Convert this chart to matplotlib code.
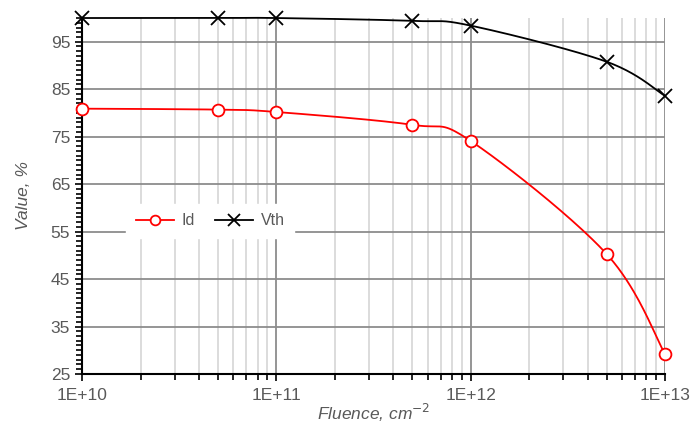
import numpy as np
import matplotlib
matplotlib.use("Agg")
import matplotlib.pyplot as plt
from matplotlib.ticker import FixedLocator, FuncFormatter, NullFormatter, LogLocator

plt.rcParams['font.family'] = ['Liberation Sans', 'DejaVu Sans']

fluence = [1e10, 5e10, 1e11, 5e11, 1e12, 5e12, 1e13]
id_vals = [80.9, 80.7, 80.2, 77.5, 74.1, 50.3, 29.2]
vth_vals = [100.0, 100.0, 100.0, 99.4, 98.4, 90.8, 83.6]
y_ticks = [25, 35, 45, 55, 65, 75, 85, 95]
x_ticks = [1e10, 1e11, 1e12, 1e13]
x_tick_labels = ["1E+10", "1E+11", "1E+12", "1E+13"]


def smooth(xs, ys, n=40):
    # Catmull-Rom style smoothing in log-x space (Excel "smoothed line")
    lx = np.log10(xs)
    ys = np.asarray(ys, float)
    P = np.column_stack([lx, ys])
    out = []
    for i in range(len(P) - 1):
        p0 = P[i - 1] if i > 0 else P[i]
        p1 = P[i]
        p2 = P[i + 1]
        p3 = P[i + 2] if i + 2 < len(P) else P[i + 1]
        c1 = p1 + (p2 - p0) / 6.0
        c2 = p2 - (p3 - p1) / 6.0
        t = np.linspace(0, 1, n)[:, None]
        seg = ((1 - t) ** 3) * p1 + 3 * ((1 - t) ** 2) * t * c1 + 3 * (1 - t) * t ** 2 * c2 + t ** 3 * p2
        out.append(seg if i == 0 else seg[1:])
    S = np.vstack(out)
    return 10 ** S[:, 0], S[:, 1]


fig = plt.figure(figsize=(6.92, 4.24), dpi=100)
ax = fig.add_axes([0.1185, 0.118, 0.8425, 0.8395])
ax.set_xscale('log')
ax.set_xlim(1e10, 1e13)
ax.set_ylim(25, 100)

gray = '#595959'
ax.set_axisbelow(True)
ax.yaxis.set_major_locator(FixedLocator(y_ticks))
ax.yaxis.set_minor_locator(FixedLocator(np.arange(25, 100.1, 1)))
ax.xaxis.set_major_locator(FixedLocator(x_ticks))
ax.xaxis.set_major_formatter(FuncFormatter(lambda v, p: x_tick_labels[x_ticks.index(v)] if v in x_ticks else ""))
ax.xaxis.set_minor_locator(LogLocator(base=10, subs=np.arange(2, 10)))
ax.xaxis.set_minor_formatter(NullFormatter())

ax.grid(which='major', axis='both', color='#8c8c8c', linewidth=1.3)
ax.grid(which='minor', axis='x', color='#d9d9d9', linewidth=1.3)

for s in ['top', 'right']:
    ax.spines[s].set_visible(False)
for s in ['left', 'bottom']:
    ax.spines[s].set_linewidth(1.5)
    ax.spines[s].set_color('black')

ax.tick_params(which='both', direction='out', color='black', width=1.2, labelsize=12.5, labelcolor=gray)
ax.tick_params(which='major', length=5)
ax.tick_params(which='minor', length=4)
ax.tick_params(axis='x', which='major', pad=5)

sx, sy = smooth(fluence, id_vals)
ax.plot(sx, sy, color='red', linewidth=1.3, clip_on=False, zorder=3)
sx, sy = smooth(fluence, vth_vals)
ax.plot(sx, sy, color='black', linewidth=1.3, clip_on=False, zorder=3)
ax.plot(fluence, id_vals, linestyle='none', marker='o', markersize=8.5, markerfacecolor='white',
        markeredgecolor='red', markeredgewidth=1.3, clip_on=False, zorder=4)
ax.plot(fluence, vth_vals, linestyle='none', marker='x', markersize=9.5, markeredgecolor='black',
        markeredgewidth=1.3, clip_on=False, zorder=4)

# legend proxies
h1, = ax.plot([], [], color='red', linewidth=1.3, marker='o', markersize=7, markerfacecolor='white',
              markeredgecolor='red', markeredgewidth=1.3)
h2, = ax.plot([], [], color='black', linewidth=1.3, marker='x', markersize=8, markeredgecolor='black',
              markeredgewidth=1.3)
leg = ax.legend([h1, h2], ['Id', 'Vth'], loc='center', bbox_to_anchor=(0.22, 0.43), ncol=2,
                frameon=True, fancybox=False, edgecolor='white', facecolor='white', framealpha=1,
                fontsize=11.5, handlelength=2.4, columnspacing=1.2, handletextpad=0.5, borderpad=0.6)
for t in leg.get_texts():
    t.set_color(gray)

ax.set_ylabel('Value, %', fontsize=12.5, style='italic', color=gray)
ax.yaxis.set_label_coords(-0.087, 0.5)
ax.set_xlabel('Fluence, cm$^{-2}$', fontsize=12.5, style='italic', color=gray)
ax.xaxis.set_label_coords(0.5, -0.078)

fig.savefig('out.png', dpi=100)
